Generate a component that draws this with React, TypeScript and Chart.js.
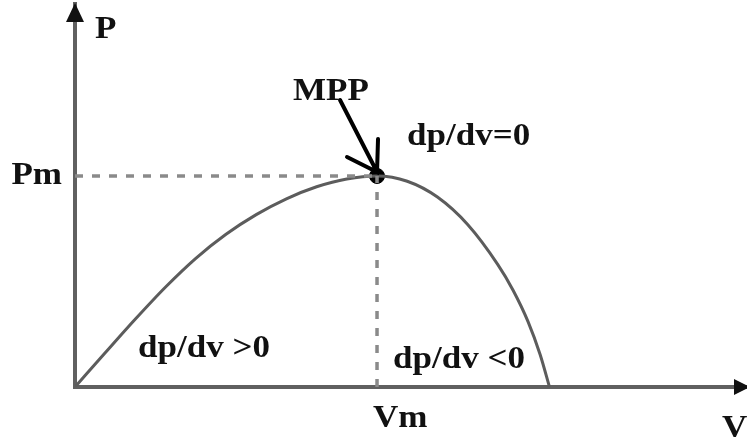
import React, { useEffect, useRef } from "react";
import { Chart, registerables } from "chart.js";

Chart.register(...registerables);

// P-V curve samples (V normalised to Vm, P normalised to Pm)
const voltage = [0, 0.1, 0.2, 0.3, 0.4, 0.5, 0.6, 0.7, 0.8, 0.9, 1.0, 1.1, 1.2, 1.3, 1.4, 1.45, 1.5, 1.54, 1.571];
const power = [0, 0.162, 0.322, 0.474, 0.61, 0.724, 0.817, 0.892, 0.949, 0.986, 1.0, 0.975, 0.9, 0.77, 0.58, 0.46, 0.31, 0.154, 0];

const VM = 1;
const PM = 1;

const axisLabels = { p: "P", v: "V", pm: "Pm", vm: "Vm" };
const regionLabels = ["MPP", "dp/dv=0", "dp/dv >0", "dp/dv <0"];

const FONT = "bold 31px 'Liberation Serif', 'Times New Roman', serif";
const STRETCH = 1.13;

function drawText(ctx: CanvasRenderingContext2D, text: string, x: number, y: number, align: "left" | "right" = "left") {
  ctx.save();
  ctx.font = FONT;
  ctx.fillStyle = "#111";
  ctx.textBaseline = "alphabetic";
  const w = ctx.measureText(text).width * STRETCH;
  const left = align === "left" ? x : x - w;
  ctx.translate(left, y);
  ctx.scale(STRETCH, 1);
  ctx.textAlign = "left";
  ctx.fillText(text, 0, 0);
  ctx.restore();
}

const overlayPlugin = {
  id: "overlay",
  afterDatasetsDraw(chart: any) {
    const { ctx, chartArea, scales } = chart;
    const xs = scales.x;
    const ys = scales.y;
    const px = (v: number) => xs.getPixelForValue(v);
    const py = (v: number) => ys.getPixelForValue(v);

    // axis arrow heads
    ctx.save();
    ctx.fillStyle = "#111";
    ctx.beginPath();
    ctx.moveTo(chartArea.left, chartArea.top - 1);
    ctx.lineTo(chartArea.left - 9, chartArea.top + 18);
    ctx.lineTo(chartArea.left + 9, chartArea.top + 18);
    ctx.closePath();
    ctx.fill();
    ctx.beginPath();
    ctx.moveTo(chartArea.right + 3, chartArea.bottom);
    ctx.lineTo(chartArea.right - 13, chartArea.bottom - 8);
    ctx.lineTo(chartArea.right - 13, chartArea.bottom + 8);
    ctx.closePath();
    ctx.fill();
    ctx.restore();

    // MPP pointer arrow
    const tipX = px(VM);
    const tipY = py(PM) - 4;
    const startX = tipX - 37;
    const startY = tipY - 72;
    ctx.save();
    ctx.strokeStyle = "#000";
    ctx.lineWidth = 4;
    ctx.lineCap = "round";
    ctx.beginPath();
    ctx.moveTo(startX, startY);
    ctx.lineTo(tipX, tipY);
    ctx.moveTo(tipX + 1, tipY - 33);
    ctx.lineTo(tipX, tipY);
    ctx.lineTo(tipX - 30, tipY - 15);
    ctx.stroke();
    ctx.restore();

    // labels
    drawText(ctx, axisLabels.p, chartArea.left + 20, 38);
    drawText(ctx, axisLabels.pm, chartArea.left - 13, py(PM) + 8, "right");
    drawText(ctx, axisLabels.vm, px(VM) - 4, chartArea.bottom + 40);
    drawText(ctx, axisLabels.v, chartArea.right - 25, chartArea.bottom + 50);
    drawText(ctx, regionLabels[0], px(VM) - 84, py(PM) - 76);
    drawText(ctx, regionLabels[1], px(VM) + 30, py(PM) - 31);
    drawText(ctx, regionLabels[2], chartArea.left + 63, chartArea.bottom - 30);
    drawText(ctx, regionLabels[3], px(VM) + 16, chartArea.bottom - 19);
  },
};

export default function App() {
  const ref = useRef<HTMLCanvasElement | null>(null);

  useEffect(() => {
    if (!ref.current) return;
    const curve = voltage.map((v, i) => ({ x: v, y: power[i] }));
    const chart = new Chart(ref.current, {
      type: "line",
      data: {
        datasets: [
          {
            data: [{ x: 0, y: PM }, { x: VM, y: PM }],
            borderColor: "#8a8a8a",
            borderWidth: 3.5,
            borderDash: [8, 9],
            pointRadius: 0,
          },
          {
            data: [{ x: VM, y: 0 }, { x: VM, y: PM }],
            borderColor: "#8a8a8a",
            borderWidth: 3.5,
            borderDash: [8, 9],
            pointRadius: 0,
          },
          {
            data: curve,
            borderColor: "#5c5c5c",
            borderWidth: 3,
            pointRadius: 0,
            cubicInterpolationMode: "monotone",
          },
          {
            data: [{ x: VM, y: PM }],
            borderColor: "#000",
            backgroundColor: "#000",
            pointBackgroundColor: "#000",
            pointBorderColor: "#000",
            pointRadius: 7.5,
            pointBorderWidth: 1,
            showLine: false,
          },
        ],
      },
      options: {
        animation: false,
        responsive: false,
        maintainAspectRatio: false,
        layout: { autoPadding: false, padding: { left: 75, top: 4, right: 0, bottom: 52 } },
        plugins: { legend: { display: false }, tooltip: { enabled: false } },
        scales: {
          x: {
            type: "linear",
            min: 0,
            max: 2.225,
            grid: { display: false, drawTicks: false },
            ticks: { display: false },
            border: { display: true, color: "#606060", width: 4 },
          },
          y: {
            type: "linear",
            min: 0,
            max: 1.815,
            grid: { display: false, drawTicks: false },
            ticks: { display: false },
            border: { display: true, color: "#606060", width: 4 },
          },
        },
      },
      plugins: [overlayPlugin],
    });
    return () => chart.destroy();
  }, []);

  return (
    <div style={{ position: "absolute", left: 0, top: 0, width: 747, height: 439, background: "#fff" }}>
      <canvas ref={ref} width={747} height={439} style={{ width: 747, height: 439 }} />
    </div>
  );
}
